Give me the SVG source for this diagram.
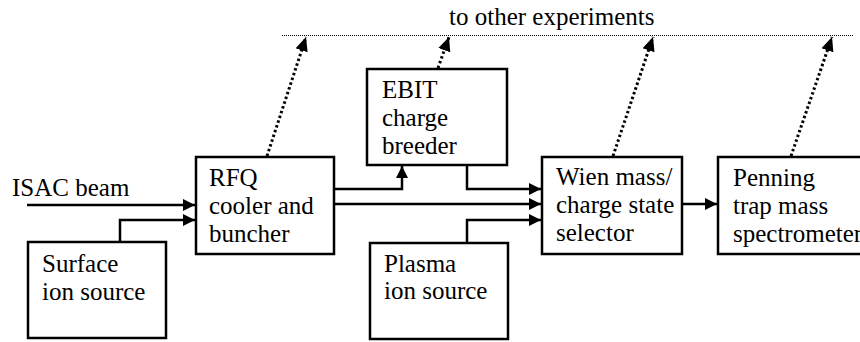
<svg xmlns="http://www.w3.org/2000/svg" width="860" height="342" viewBox="0 0 860 342">
  <style>
    .box { fill: #fff; stroke: #000; stroke-width: 2.5; }
    .lbl { font-family: "Liberation Serif", "Times New Roman", serif; font-size: 25px; fill: #000; }
    .flow { fill: none; stroke: #000; stroke-width: 2.5; }
    .out { fill: none; stroke: #000; stroke-width: 3; stroke-dasharray: 2.5 2.5; }
    .rail { fill: none; stroke: #000; stroke-width: 1; stroke-dasharray: 1 1; }
  </style>
  <defs>
    <marker id="head" viewBox="0 0 10 10" refX="10" refY="5" markerWidth="12" markerHeight="12" markerUnits="userSpaceOnUse" orient="auto">
      <path d="M0,0 L10,5 L0,10 Z" fill="#000"/>
    </marker>
    <marker id="headOut" viewBox="0 0 10 10" refX="10" refY="5" markerWidth="14" markerHeight="14" markerUnits="userSpaceOnUse" orient="auto">
      <path d="M0,0.5 L10,5 L0,9.5 Z" fill="#000"/>
    </marker>
  </defs>

  <!-- distribution rail -->
  <g id="rail">
    <line class="rail" x1="282" y1="35.5" x2="853" y2="35.5"/>
    <text class="lbl" x="449" y="25">to other experiments</text>
  </g>

  <g id="isac">
    <text class="lbl" x="12" y="196">ISAC beam</text>
  </g>

  <g id="surface">
    <rect class="box" x="28" y="242" width="138" height="96"/>
    <text class="lbl" x="42" y="272">Surface</text>
    <text class="lbl" x="42" y="300">ion source</text>
  </g>

  <g id="rfq">
    <rect class="box" x="196" y="157" width="138" height="97"/>
    <text class="lbl" x="209" y="186">RFQ</text>
    <text class="lbl" x="209" y="214">cooler and</text>
    <text class="lbl" x="209" y="242">buncher</text>
  </g>

  <g id="ebit">
    <rect class="box" x="367" y="69" width="140" height="96"/>
    <text class="lbl" x="382" y="98">EBIT</text>
    <text class="lbl" x="382" y="126">charge</text>
    <text class="lbl" x="382" y="154">breeder</text>
  </g>

  <g id="plasma">
    <rect class="box" x="370" y="243" width="138" height="96"/>
    <text class="lbl" x="384" y="272">Plasma</text>
    <text class="lbl" x="384" y="299">ion source</text>
  </g>

  <g id="wien">
    <rect class="box" x="542" y="157" width="140" height="97"/>
    <text class="lbl" x="556" y="185">Wien mass/</text>
    <text class="lbl" x="556" y="213">charge state</text>
    <text class="lbl" x="556" y="241">selector</text>
  </g>

  <g id="penning">
    <rect class="box" x="718" y="157" width="160" height="97"/>
    <text class="lbl" x="733" y="186">Penning</text>
    <text class="lbl" x="733" y="214">trap mass</text>
    <text class="lbl" x="733" y="242">spectrometer</text>
  </g>

  <g id="connectors">
    <!-- beam lines -->
    <path class="flow" d="M27,205 H195" marker-end="url(#head)"/>
    <path class="flow" d="M120,242 V220 H195" marker-end="url(#head)"/>
    <path class="flow" d="M334,189 H402 V166" marker-end="url(#head)"/>
    <path class="flow" d="M467,165 V189 H541" marker-end="url(#head)"/>
    <path class="flow" d="M334,204 H541" marker-end="url(#head)"/>
    <path class="flow" d="M467,243 V220 H541" marker-end="url(#head)"/>
    <path class="flow" d="M682,204 H717" marker-end="url(#head)"/>
    <!-- extraction to other experiments -->
    <path class="out" d="M267,156 L306,37" marker-end="url(#headOut)"/>
    <path class="out" d="M438,68 L449,37" marker-end="url(#headOut)"/>
    <path class="out" d="M613,156 L653,37" marker-end="url(#headOut)"/>
    <path class="out" d="M791,156 L832,37" marker-end="url(#headOut)"/>
  </g>
</svg>
